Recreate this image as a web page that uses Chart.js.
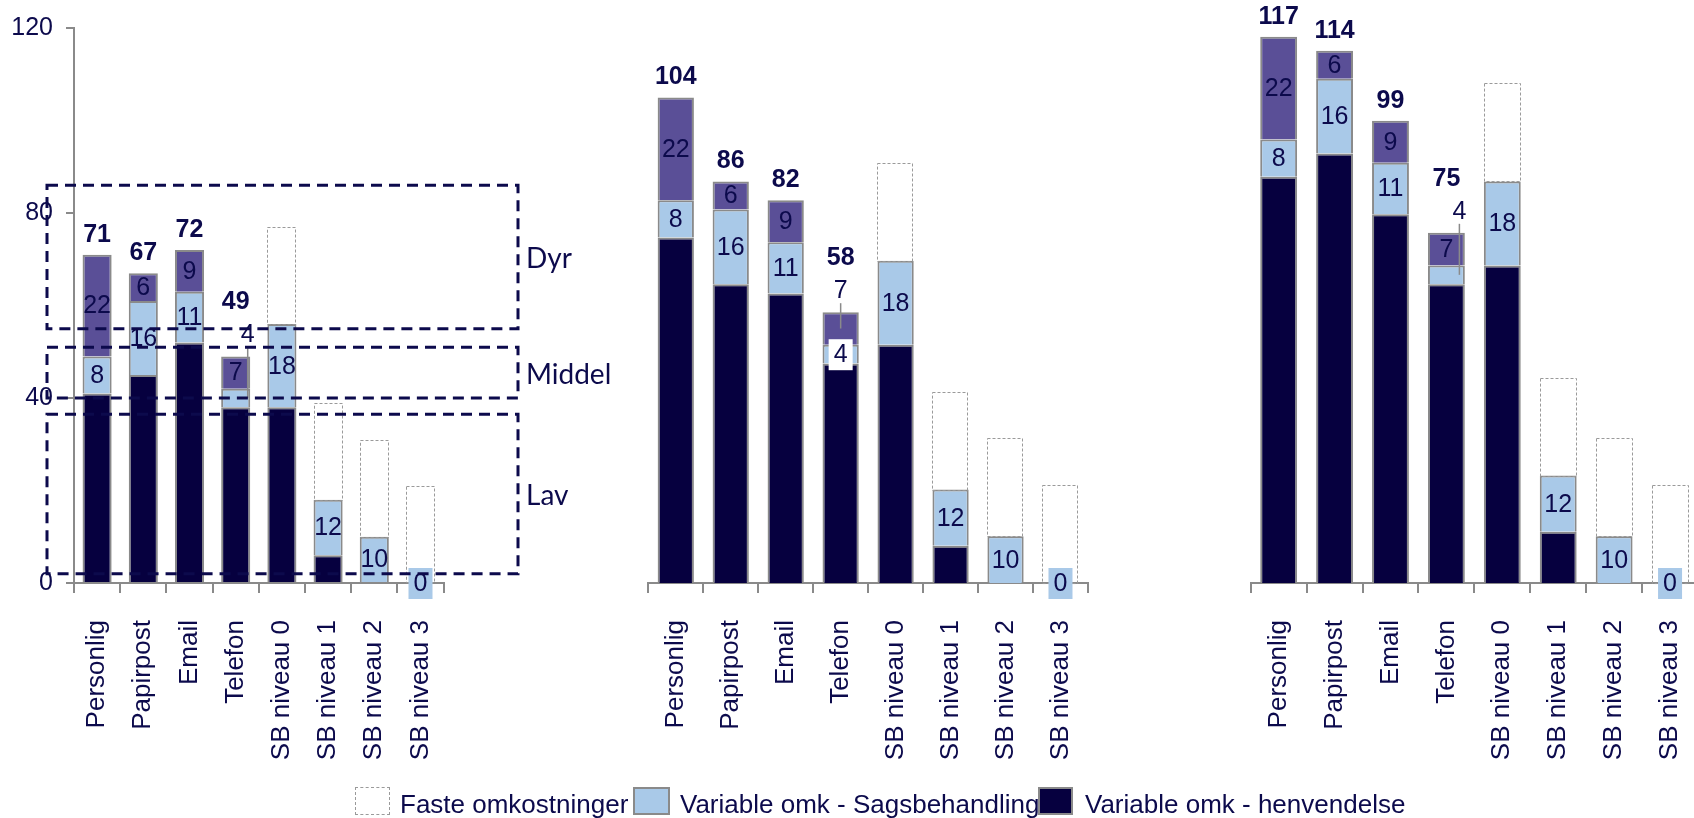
<!DOCTYPE html>
<html>
<head>
<meta charset="utf-8">
<script src="https://cdn.jsdelivr.net/npm/chart.js@4.4.1/dist/chart.umd.min.js"></script>
<style>
  html, body { margin: 0; padding: 0; background: #fff; }
  #wrap { position: relative; width: 1694px; height: 818px; overflow: hidden; font-family: 'Liberation Sans', Arial, sans-serif; color: #0c0a4c; }
  #wrap canvas { position: absolute; top: 0; }
  .key { position: absolute; top: 787px; height: 28px; box-sizing: border-box; }
  .key-text { position: absolute; top: 789px; font-size: 26px; line-height: 30px; white-space: nowrap; }
</style>
</head>
<body>
<div id="wrap">
  <canvas id="p1" width="640" height="800" style="left:0"></canvas>
  <canvas id="p2" width="560" height="800" style="left:560px"></canvas>
  <canvas id="p3" width="600" height="800" style="left:1130px"></canvas>

  <div class="key" style="left:355px;width:35px;border:1px dashed #9a9a9a;background:#fff"></div>
  <div class="key-text" id="k1" style="left:400px"></div>
  <div class="key" style="left:633px;width:37px;border:2px solid #8a8a8a;background:#a9c9e8"></div>
  <div class="key-text" id="k2" style="left:680px"></div>
  <div class="key" style="left:1038px;width:35px;border:2px solid #8a8a8a;background:#06003f"></div>
  <div class="key-text" id="k3" style="left:1085px"></div>
</div>
<script>
const categories = ['Personlig', 'Papirpost', 'Email', 'Telefon', 'SB niveau 0', 'SB niveau 1', 'SB niveau 2', 'SB niveau 3'];

// variable cost per contact, one array per scenario
const henvendelseA = [41, 45, 52, 38, 38, 6, 0, 0];
const henvendelseB = [74, 64, 62, 47, 51, 8, 0, 0];
const henvendelseC = [87, 92, 79, 64, 68, 11, 0, 0];
const sagsbehandling = [8, 16, 11, 4, 18, 12, 10, 0];
const kanal = [22, 6, 9, 7, 0, 0, 0, 0];
const faste = [0, 0, 0, 0, 21, 21, 21, 21];

const yTicks = [0, 40, 80, 120];
const seriesNames = ['Faste omkostninger', 'Variable omk - Sagsbehandling', 'Variable omk - henvendelse'];

// price bands marked on the first panel
const bands = [
  { name: 'Dyr', from: 55, to: 86 },
  { name: 'Middel', from: 40, to: 51 },
  { name: 'Lav', from: 2, to: 36.5 },
];

const NAVY = '#06003f', BLUE = '#a9c9e8', PURPLE = '#5a4f97', INK = '#0c0a4c', EDGE = '#8a8a8a';
const FONT = '"Liberation Sans", Arial, sans-serif';

document.getElementById('k1').textContent = seriesNames[0];
document.getElementById('k2').textContent = seriesNames[1];
document.getElementById('k3').textContent = seriesNames[2];

const mid = el => (el.y + el.base) / 2;

const barLabels = {
  id: 'barLabels',
  afterDatasetsDraw(chart) {
    const { ctx } = chart;
    const opts = chart.options.plugins.barLabels;
    const henv = chart.data.datasets[0].data;
    const mBlue = chart.getDatasetMeta(1).data.map(e => e.getProps(['x', 'y', 'base', 'width'], true));
    const mPurple = chart.getDatasetMeta(2).data.map(e => e.getProps(['x', 'y', 'base', 'width'], true));
    const mFixed = chart.getDatasetMeta(3).data.map(e => e.getProps(['x', 'y', 'base', 'width'], true));
    ctx.save();

    // fixed costs are only outlined
    ctx.setLineDash([3, 2]);
    ctx.lineWidth = 1;
    ctx.strokeStyle = '#9a9a9a';
    mFixed.forEach((b, i) => {
      if (!faste[i]) return;
      ctx.strokeRect(Math.round(b.x - b.width / 2) + 0.5, Math.round(b.y) + 0.5, Math.round(b.width) - 1, b.base - b.y);
    });
    ctx.setLineDash([]);

    ctx.textAlign = 'center';
    ctx.textBaseline = 'middle';
    const label = (txt, x, y, bg, bold) => {
      ctx.font = (bold ? 'bold ' : '') + '25px ' + FONT;
      if (bg) {
        ctx.fillStyle = bg;
        ctx.fillRect(x - 12, y - 15, 24, 31);
      }
      ctx.fillStyle = INK;
      ctx.fillText(txt, x, y + 1);
    };

    categories.forEach((c, i) => {
      const b = mBlue[i], p = mPurple[i];
      const top = p.y;
      const lifted = opts.lift.index === i ? opts.lift : null;
      let totalY = top - 21;

      if (lifted) {
        const seg = lifted.series === 'blue' ? b : p;
        const val = lifted.series === 'blue' ? sagsbehandling[i] : kanal[i];
        const lx = b.x + lifted.dx;
        const ly = top - 22;
        ctx.strokeStyle = EDGE;
        ctx.lineWidth = 1.5;
        ctx.beginPath();
        ctx.moveTo(lx, ly + 13);
        ctx.lineTo(lx, mid(seg));
        ctx.stroke();
        label(String(val), lx, ly);
        totalY = top - 55;
      }

      if (!(lifted && lifted.series === 'blue')) {
        if (sagsbehandling[i] === 0) label('0', b.x, b.base, BLUE);
        else label(String(sagsbehandling[i]), b.x, mid(b), lifted ? '#fff' : null);
      }
      if (kanal[i] > 0 && !(lifted && lifted.series === 'purple')) {
        label(String(kanal[i]), p.x, mid(p));
      }
      if (kanal[i] > 0) {
        label(String(henv[i] + sagsbehandling[i] + kanal[i]), b.x, totalY, null, true);
      }
    });
    ctx.restore();
  }
};

const bandBoxes = {
  id: 'bandBoxes',
  afterDraw(chart) {
    if (!chart.options.plugins.bandBoxes.show) return;
    const { ctx, chartArea, scales: { y } } = chart;
    const left = chartArea.left - 27, right = chartArea.left + 444;
    ctx.save();
    ctx.setLineDash([11, 7]);
    ctx.lineWidth = 3;
    ctx.strokeStyle = INK;
    ctx.fillStyle = INK;
    ctx.font = '28px Lato, "Open Sans", sans-serif';
    ctx.textBaseline = 'middle';
    bands.forEach(b => {
      const t = y.getPixelForValue(b.to), btm = y.getPixelForValue(b.from);
      ctx.strokeRect(left, t, right - left, btm - t);
      ctx.fillText(b.name, right + 8, (t + btm) / 2 + 2);
    });
    ctx.restore();
  }
};

function panel(id, henvendelse, cfg) {
  const edge = c => (c.raw > 0 ? 2 : 0);
  return new Chart(document.getElementById(id), {
    type: 'bar',
    data: {
      labels: categories,
      datasets: [
        { label: seriesNames[2], data: henvendelse, backgroundColor: NAVY, borderColor: EDGE, borderWidth: edge },
        { label: seriesNames[1], data: sagsbehandling, backgroundColor: BLUE, borderColor: EDGE, borderWidth: edge },
        { label: 'Variable omk', data: kanal, backgroundColor: PURPLE, borderColor: EDGE, borderWidth: edge },
        { label: seriesNames[0], data: faste, backgroundColor: 'rgba(0,0,0,0)', borderWidth: 0 },
      ],
    },
    options: {
      responsive: false,
      animation: false,
      events: [],
      barPercentage: cfg.barPercentage,
      categoryPercentage: 1,
      layout: { padding: { left: cfg.padLeft, right: cfg.padRight, top: 22.7, bottom: 0 } },
      plugins: {
        legend: { display: false },
        tooltip: { enabled: false },
        barLabels: { lift: cfg.lift },
        bandBoxes: { show: !!cfg.bands },
      },
      scales: {
        x: {
          stacked: true,
          afterFit: axis => { axis.height = 217; },
          grid: { offset: true, drawOnChartArea: false, tickLength: 10, color: EDGE, lineWidth: 2 },
          border: { color: EDGE, width: 2 },
          ticks: { autoSkip: false, minRotation: 90, maxRotation: 90, padding: 27, color: INK, font: { family: FONT, size: 26 } },
        },
        y: {
          stacked: true,
          display: cfg.showY,
          min: 0,
          max: 120,
          afterFit: axis => { axis.width = cfg.showY ? 74 : 0; },
          afterBuildTicks: axis => { axis.ticks = yTicks.map(v => ({ value: v })); },
          grid: { drawOnChartArea: false, tickLength: 8, color: EDGE, lineWidth: 2 },
          border: { color: EDGE, width: 2 },
          ticks: { padding: 13, color: INK, font: { family: FONT, size: 25 } },
        },
      },
    },
    plugins: [barLabels, bandBoxes],
  });
}

panel('p1', henvendelseA, { barPercentage: 0.63, padLeft: 0, padRight: 196.4, showY: true, bands: true, lift: { index: 3, series: 'blue', dx: 12 } });
panel('p2', henvendelseB, { barPercentage: 0.66, padLeft: 88.3, padRight: 21, showY: false, lift: { index: 3, series: 'purple', dx: 0 } });
panel('p3', henvendelseC, { barPercentage: 0.66, padLeft: 120.7, padRight: 28, showY: false, lift: { index: 3, series: 'blue', dx: 13 } });
</script>
</body>
</html>
